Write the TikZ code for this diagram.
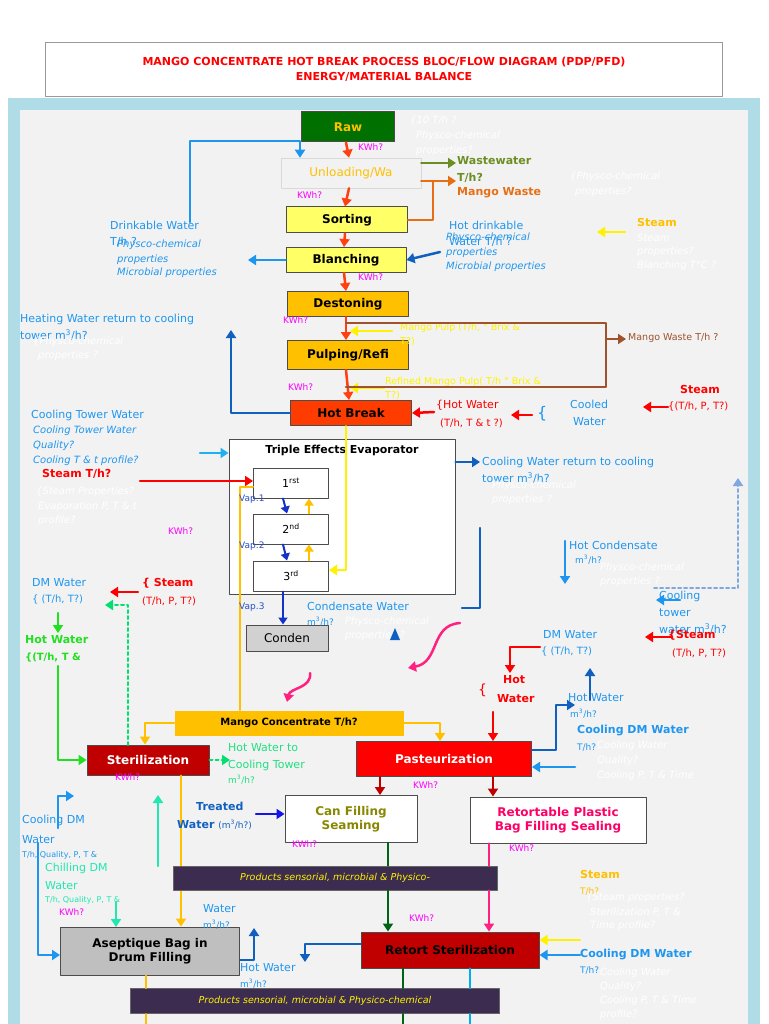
\documentclass[tikz,border=0pt]{standalone}
\usepackage{fontspec}
\setmainfont{DejaVu Sans}
\setsansfont{DejaVu Sans}
\usetikzlibrary{arrows.meta, calc, positioning}
\definecolor{redarr}{HTML}{FF4010}
\definecolor{drblue}{HTML}{1E96F0}
\definecolor{dkblue}{HTML}{1060C0}
\definecolor{orng}{HTML}{FFC000}
\definecolor{olive}{HTML}{6B8E23}
\definecolor{brwn}{HTML}{A0522D}
\definecolor{mag}{HTML}{FF00FF}
\definecolor{grn}{HTML}{20E020}
\definecolor{turq}{HTML}{20E8B0}
\definecolor{pink}{HTML}{FF2080}
\definecolor{prod}{HTML}{3C2C50}
\definecolor{dred}{HTML}{C00000}
\definecolor{vapblue}{RGB}{20,50,200}
\definecolor{vaptext}{RGB}{40,80,200}
\definecolor{orng2}{RGB}{230,110,20}
\definecolor{dkgrn}{RGB}{0,100,20}
\definecolor{hwgrn}{RGB}{32,224,128}
\definecolor{dashgrn}{RGB}{0,224,112}
\definecolor{dashblue}{RGB}{128,168,224}
\definecolor{tblue}{RGB}{20,20,230}
\definecolor{ctblue}{RGB}{30,176,240}
\definecolor{canol}{RGB}{136,136,0}
\definecolor{rbagc}{RGB}{255,0,102}
\definecolor{rawg}{RGB}{0,112,0}
\definecolor{yelb}{RGB}{255,255,102}
\definecolor{hbc}{RGB}{255,60,0}
\definecolor{bgblue}{RGB}{176,220,232}

\begin{document}
\begin{tikzpicture}[x=1pt, y=-1pt, line cap=round, line join=round,
    box/.style={draw=black!70, line width=1pt, font=\fontsize{12}{14}\selectfont\bfseries, inner sep=1pt, align=center},
    lab/.style={anchor=west, inner sep=0pt, font=\fontsize{11}{13}\selectfont, align=left},
    faint/.style={lab, text=white, font=\fontsize{10}{12}\selectfont\itshape},
    kwh/.style={lab, text=mag, font=\fontsize{9}{11}\selectfont},
    arr/.style={line width=2.5pt, -{Triangle[length=8pt,width=10pt]}},
    ln/.style={line width=2.5pt}]
    \useasboundingbox (0,0) rectangle (768,1024);
    % frame
    \fill[white] (0,0) rectangle (768,1024);
    \node[draw=black!40, fill=white, minimum width=677, minimum height=54, inner sep=0pt] (title) at (384,69) {};
    \node[text=red, font=\fontsize{11}{15}\selectfont\bfseries, align=center] at (title) {MANGO CONCENTRATE HOT BREAK PROCESS BLOC/FLOW DIAGRAM (PDP/PFD)\\ENERGY/MATERIAL BALANCE};
    \fill[bgblue] (8,98) rectangle (760,1024);
    \fill[black!5] (20,110) rectangle (748,1024);

    % process steps
    \node[box, fill=rawg, text=orng, minimum width=93, minimum height=30] (raw) at (348,127) {Raw};
    \node[box, draw=black!15, line width=0.5pt, fill=black!5, text=orng, font=\fontsize{12}{14}\selectfont, minimum width=140, minimum height=30] (unl) at (351,173) {Unloading/Wa};
    \node[box, fill=yelb, minimum width=121, minimum height=26] (sort) at (347,220) {Sorting};
    \node[box, fill=yelb, minimum width=120, minimum height=25] (blan) at (346,260) {Blanching};
    \node[box, fill=orng, minimum width=121, minimum height=25] (dest) at (348,304) {Destoning};
    \node[box, fill=orng, minimum width=121, minimum height=29] (pulp) at (348,355) {Pulping/Refi};
    \node[box, fill=hbc, minimum width=121, minimum height=25] (hbrk) at (351,413) {Hot Break};
    \node[box, fill=white, minimum width=226, minimum height=155] (evap) at (342,517) {};
    \node[anchor=north, font=\fontsize{11}{13}\selectfont\bfseries, inner sep=0pt] (evapt) at (342,445) {Triple Effects Evaporator};
    \node[box, fill=white, font=\fontsize{11}{13}\selectfont, minimum width=75, minimum height=30] (e1) at (291,483) {1\textsuperscript{rst}};
    \node[box, fill=white, font=\fontsize{11}{13}\selectfont, minimum width=75, minimum height=30] (e2) at (291,529) {2\textsuperscript{nd}};
    \node[box, fill=white, font=\fontsize{11}{13}\selectfont, minimum width=75, minimum height=30] (e3) at (291,576) {3\textsuperscript{rd}};
    \node[box, fill=black!18, minimum width=82, minimum height=26, font=\fontsize{12}{14}\selectfont] (cond) at (287,638) {Conden};
    \node[box, draw=none, fill=orng, minimum width=229, minimum height=25, font=\fontsize{10}{12}\selectfont\bfseries] (conc) at (289,723) {Mango Concentrate T/h?};
    \node[box, fill=dred, text=white, minimum width=122, minimum height=30] (ster) at (148,760) {Sterilization};
    \node[box, fill=red, text=white, minimum width=175, minimum height=35] (past) at (444,759) {Pasteurization};
    \node[box, fill=white, text=canol, minimum width=132, minimum height=47] (can) at (351,819) {Can Filling\\Seaming};
    \node[box, fill=white, text=rbagc, minimum width=176, minimum height=46] (rbag) at (558,820) {Retortable Plastic\\Bag Filling Sealing};
    \node[box, fill=black!25, minimum width=179, minimum height=48] (asep) at (150,951) {Aseptique Bag in\\Drum Filling};
    \node[box, fill=dred, minimum width=178, minimum height=36] (rster) at (450,950) {Retort Sterilization};

    % main line
    \foreach \source/\target in {raw/unl, unl/sort, sort/blan, blan/dest, dest/pulp, pulp/hbrk} {
            \draw[arr, redarr] ([xshift=-2]\source.south) -- ([xshift=-2]\target.north);
        }
    % evaporator inner flows
    \draw[line width=2pt, yellow, -{Triangle[length=8pt,width=10pt]}] (346,426) -- (346,570) -- (e3.east |- 0,570);
    \draw[line width=2pt, orng] (conc.north -| 240,0) -- (240,487) -- (e1.west |- 0,487);
    \foreach \source/\target in {e3/e2, e2/e1} {
            \draw[line width=2pt, orng, -{Triangle[length=7pt,width=9pt]}] ([xshift=18]\source.north) -- ([xshift=18]\target.south);
        }
    \foreach \source/\target in {e1/e2, e2/e3, e3/cond} {
            \draw[line width=2pt, vapblue, -{Triangle[length=7pt,width=9pt]}] ([xshift=-8]\source.south) -- ([xshift=-4]\target.north);
        }
    \node[lab, text=vaptext, font=\fontsize{9}{11}\selectfont] at (239,499) {Vap.1};
    \node[lab, text=vaptext, font=\fontsize{9}{11}\selectfont] at (239,546) {Vap.2};
    \node[lab, text=vaptext, font=\fontsize{9}{11}\selectfont] at (239,607) {Vap.3};

    % top side streams
    \node[kwh] at (358,147) {KWh?};
    \node[kwh] at (297,195) {KWh?};
    \node[kwh] at (358,277) {KWh?};
    \node[kwh] at (283,320) {KWh?};
    \node[kwh] at (288,387) {KWh?};
    \node[faint] at (410,121) {\{10 T/h ?};
    \node[faint] at (416,136) {Physco-chemical};
    \node[faint] at (416,151) {properties?};
    \coordinate (dw) at (190,222);
    \draw[arr, drblue] (dw) -- (190,141) -- (300,141) -- ([xshift=-51]unl.north);
    \node[lab, text=drblue] (dwl) at (110,225) {Drinkable Water};
    \node[lab, text=drblue] at (110,242) {T/h ?};
    \node[lab, text=drblue, font=\fontsize{10}{12}\selectfont\itshape] at (117,245) {Physco-chemical};
    \node[lab, text=drblue, font=\fontsize{10}{12}\selectfont\itshape] at (117,260) {properties};
    \node[lab, text=drblue, font=\fontsize{10}{12}\selectfont\itshape] at (117,273) {Microbial properties};
    \coordinate (blo) at (248,260);
    \draw[arr, drblue] (blan.west) -- (blo);
    \coordinate (ww) at (456,163);
    \coordinate (mw) at (456,181);
    \draw[arr, olive] ([yshift=10]unl.east) -- (ww);
    \draw[arr, orng2] ([yshift=-8]unl.east) -- (mw);
    \draw[ln, orng2] (sort.east) -- (433,220) -- (433,181);
    \node[lab, text=olive, font=\fontsize{11}{13}\selectfont\bfseries] at (457,161) {Wastewater};
    \node[lab, text=olive, font=\fontsize{11}{13}\selectfont\bfseries] at (457,178) {T/h?};
    \node[lab, text=orng2, font=\fontsize{11}{13}\selectfont\bfseries] at (457,193) {Mango Waste};
    \node[faint] at (570,177) {\{Physco-chemical};
    \node[faint] at (575,192) {properties?};
    \coordinate (hdw) at (440,252);
    \draw[arr, dkblue] (hdw) -- (blan.east);
    \node[lab, text=drblue] at (449,225) {Hot drinkable};
    \node[lab, text=drblue] at (449,242) {Water T/h ?};
    \node[lab, text=drblue, font=\fontsize{10}{12}\selectfont\itshape] at (446,238) {Physco-chemical};
    \node[lab, text=drblue, font=\fontsize{10}{12}\selectfont\itshape] at (446,253) {properties};
    \node[lab, text=drblue, font=\fontsize{10}{12}\selectfont\itshape] at (446,267) {Microbial properties};
    \coordinate (st1) at (625,232);
    \coordinate (st1e) at (597,232);
    \draw[arr, yellow] (st1) -- (st1e);
    \node[lab, text=orng, font=\fontsize{11}{13}\selectfont\bfseries] at (637,222) {Steam};
    \node[faint] at (637,238) {Steam};
    \node[faint] at (637,252) {properties?};
    \node[faint] at (637,266) {Blanching T°C ?};

    % pulping
    \coordinate (mp) at (392,331);
    \draw[arr, yellow] (mp) -- (350,331);
    \node[lab, text=yellow, font=\fontsize{9.5}{11}\selectfont] at (400,328) {Mango Pulp (T/h, ° Brix \&};
    \node[lab, text=yellow, font=\fontsize{9.5}{11}\selectfont] at (400,342) {T?)};
    \coordinate (rmp) at (384,388);
    \draw[arr, yellow] (rmp) -- (350,388);
    \node[lab, text=yellow, font=\fontsize{9.5}{11}\selectfont] at (385,382) {Refined Mango Pulp( T/h ° Brix \&};
    \node[lab, text=yellow, font=\fontsize{9.5}{11}\selectfont] at (385,396) {T?)};
    \coordinate (mwt) at (626,339);
    \draw[ln, brwn] (346,323) -- (606,323) -- (606,387) -- (346,387);
    \draw[arr, brwn] (606,339) -- (mwt);
    \node[lab, text=brwn, font=\fontsize{9.5}{11}\selectfont] at (628,338) {Mango Waste T/h ?};
    \coordinate (hwr) at (231,330);
    \draw[arr, dkblue] (hbrk.west) -- (231,413) -- (hwr);
    \node[lab, text=drblue] at (20,319) {Heating Water return to cooling};
    \node[lab, text=drblue] at (20,335) {tower m\textsuperscript{3}/h?};
    \node[faint] at (33,342) {\{Physco-chemical};
    \node[faint] at (38,356) {properties ?};

    % hot break right
    \coordinate (hw1) at (434,412);
    \draw[arr, red] (hw1) -- (hbrk.east);
    \node[lab, text=red] at (436,405) {\{Hot Water};
    \node[lab, text=red, font=\fontsize{10}{12}\selectfont] at (440,423) {(T/h, T \& t ?)};
    \coordinate (cw1) at (532,415);
    \draw[arr, red] (cw1) -- (511,415);
    \node[lab, text=drblue, font=\fontsize{16}{16}\selectfont] at (537,414) {\{};
    \node[lab, text=drblue] at (570,404) {Cooled};
    \node[lab, text=drblue] at (573,422) {Water};
    \coordinate (st2) at (668,407);
    \draw[arr, red] (st2) -- (643,407);
    \node[lab, text=red, font=\fontsize{11}{13}\selectfont\bfseries] at (680,389) {Steam};
    \node[lab, text=red, font=\fontsize{10}{12}\selectfont] at (668,407) {\{(T/h, P, T?)};

    % evaporator left
    \node[lab, text=drblue] at (31,415) {Cooling Tower Water};
    \node[lab, text=drblue, font=\fontsize{10}{12}\selectfont\itshape] at (33,431) {Cooling Tower Water};
    \node[lab, text=drblue, font=\fontsize{10}{12}\selectfont\itshape] at (33,446) {Quality?};
    \node[lab, text=drblue, font=\fontsize{10}{12}\selectfont\itshape] at (33,461) {Cooling T \& t profile?};
    \coordinate (ctw) at (200,453);
    \draw[arr, ctblue] (ctw) -- (evap.west |- ctw);
    \node[lab, text=red, font=\fontsize{11}{13}\selectfont\bfseries] at (42,474) {Steam T/h?};
    \coordinate (stt) at (140,481);
    \draw[arr, red] (stt) -- (e1.west |- stt);
    \node[faint] at (36,492) {\{Steam Properties?};
    \node[faint] at (38,507) {Evaporation P, T \& t};
    \node[faint] at (38,521) {profile?};
    \node[kwh] at (168,531) {KWh?};
    % evaporator right
    \coordinate (cwr) at (480,462);
    \draw[arr, dkblue] (evap.east |- cwr) -- (cwr);
    \node[lab, text=drblue] at (482,462) {Cooling Water return to cooling};
    \node[lab, text=drblue] at (482,478) {tower m\textsuperscript{3}/h?};
    \node[faint] at (492,486) {Physco-chemical};
    \node[faint] at (492,500) {properties ?};
    \coordinate (cdw) at (462,608);
    \draw[ln, dkblue] (480,528) -- (480,608) -- (cdw);
    \node[lab, text=drblue] at (307,606) {Condensate Water};
    \node[lab, text=drblue, font=\fontsize{9}{11}\selectfont] at (307,622) {m\textsuperscript{3}/h?};
    \node[faint] at (345,622) {Physco-chemical};
    \node[faint] at (345,636) {properties ?};
    \fill[dkblue] (390,640) -- (395,628) -- (400,640) -- cycle;
    \coordinate (hc) at (565,541);
    \draw[arr, drblue] (hc) -- (565,584);
    \node[lab, text=drblue] at (569,545) {Hot Condensate};
    \node[lab, text=drblue, font=\fontsize{9}{11}\selectfont] at (575,560) {m\textsuperscript{3}/h?};
    \node[faint] at (600,568) {Physco-chemical};
    \node[faint] at (600,582) {properties ?};
    \coordinate (dsh) at (654,588);
    \draw[line width=2pt, dashed, dashblue, -{Triangle[length=8pt,width=10pt]}] (dsh) -- (738,588) -- (738,478);
    \coordinate (ctw2) at (680,600);
    \draw[arr, drblue] (ctw2) -- (656,600);
    \node[lab, text=drblue] at (659,596) {Cooling};
    \node[lab, text=drblue] at (659,613) {tower};
    \node[lab, text=drblue] at (659,629) {water m\textsuperscript{3}/h?};
    % pink curves
    \coordinate (pk1) at (460,623);
    \coordinate (pk2) at (310,673);
    \draw[arr, pink] (pk1) .. controls (430,625) and (440,662) .. (408,668);
    \draw[arr, pink] (pk2) .. controls (312,688) and (290,688) .. (287,702);

    % left middle
    \node[lab, text=drblue] at (32,583) {DM Water};
    \node[lab, text=drblue, font=\fontsize{10}{12}\selectfont] at (32,600) {\{ (T/h, T?)};
    \coordinate (st3) at (138,592);
    \draw[arr, red] (st3) -- (110,592);
    \node[lab, text=red, font=\fontsize{11}{13}\selectfont\bfseries] at (142,583) {\{ Steam};
    \node[lab, text=red, font=\fontsize{10}{12}\selectfont] at (142,601) {(T/h, P, T?)};
    \coordinate (gd) at (128,605);
    \draw[line width=2pt, dashed, dashgrn, -{Triangle[length=8pt,width=10pt]}] (128,745) -- (gd) -- (105,605);
    \coordinate (hw2) at (58,613);
    \draw[arr, grn] (hw2) -- (58,633);
    \node[lab, text=grn, font=\fontsize{11}{13}\selectfont\bfseries] at (25,640) {Hot Water};
    \node[lab, text=grn, font=\fontsize{10}{12}\selectfont\bfseries] at (25,658) {\{(T/h, T \&};
    \coordinate (hw3) at (58,666);
    \draw[arr, grn] (hw3) -- (58,760) -- (ster.west);
    \draw[line width=2pt, dashed, dashgrn, -{Triangle[length=8pt,width=10pt]}] (ster.east) -- (230,760);
    \node[lab, text=hwgrn] at (228,748) {Hot Water to};
    \node[lab, text=hwgrn] at (228,765) {Cooling Tower};
    \node[lab, text=hwgrn, font=\fontsize{9}{11}\selectfont] at (228,780) {m\textsuperscript{3}/h?};
    \node[kwh] at (115,777) {KWh?};

    % concentrate distribution
    \draw[arr, orng, line width=2pt] (conc.west) -- (145,723) -- ([xshift=-3]ster.north);
    \draw[arr, orng, line width=2pt] (conc.east) -- (440,723) -- ([xshift=-4]past.north);
    \draw[arr, orng, line width=2pt] ([xshift=33]ster.south) -- ([xshift=31]asep.north);

    % right middle
    \node[lab, text=drblue] at (543,635) {DM Water};
    \node[lab, text=drblue, font=\fontsize{10}{12}\selectfont] at (541,652) {\{ (T/h, T?)};
    \coordinate (st4) at (672,637);
    \draw[arr, red] (st4) -- (645,637);
    \node[lab, text=red, font=\fontsize{11}{13}\selectfont\bfseries] at (668,635) {\{Steam};
    \node[lab, text=red, font=\fontsize{10}{12}\selectfont] at (672,653) {(T/h, P, T?)};
    \coordinate (dmr) at (540,647);
    \draw[arr, red] (dmr) -- (510,647) -- (510,673);
    \node[lab, text=red, font=\fontsize{14}{14}\selectfont] at (478,690) {\{};
    \node[lab, text=red, font=\fontsize{11}{13}\selectfont\bfseries] at (503,680) {Hot};
    \node[lab, text=red, font=\fontsize{11}{13}\selectfont\bfseries] at (497,699) {Water};
    \coordinate (hw4) at (493,712);
    \draw[arr, red] (hw4) -- ([xshift=49]past.north);
    \coordinate (hw5) at (575,705);
    \draw[ln, dkblue, -{Triangle[length=8pt,width=10pt]}] ([yshift=9]past.east) -- (556,750) -- (556,705) -- (hw5);
    \draw[arr, dkblue] (590,700) -- (590,668);
    \node[lab, text=drblue] at (568,698) {Hot Water};
    \node[lab, text=drblue, font=\fontsize{9}{11}\selectfont] at (570,714) {m\textsuperscript{3}/h?};
    \node[lab, text=drblue, font=\fontsize{11}{13}\selectfont\bfseries] at (577,730) {Cooling DM Water};
    \node[lab, text=drblue, font=\fontsize{9}{11}\selectfont] at (577,747) {T/h?};
    \node[faint] at (597,746) {Cooling Water};
    \node[faint] at (597,761) {Quality?};
    \node[faint] at (597,776) {Cooling P, T \& Time};
    \coordinate (cdm1) at (575,767);
    \draw[arr, drblue] (cdm1) -- ([yshift=-8]past.east);
    \node[kwh] at (413,785) {KWh?};
    \draw[arr, dred] ([xshift=-64]past.south) -- ([xshift=29]can.north);
    \draw[arr, dred] ([xshift=49]past.south) -- ([xshift=-65]rbag.north);

    % filling
    \node[lab, text=dkblue, font=\fontsize{11}{13}\selectfont\bfseries] at (196,806) {Treated};
    \node[lab, text=dkblue, font=\fontsize{11}{13}\selectfont\bfseries] at (177,825) {Water \mdseries\fontsize{9}{11}\selectfont(m\textsuperscript{3}/h?)};
    \coordinate (tw) at (256,814);
    \draw[arr, tblue] (tw) -- (can.west |- tw);
    \node[kwh] at (292,844) {KWh?};
    \node[kwh] at (509,848) {KWh?};
    \node[lab, text=drblue] at (22,820) {Cooling DM};
    \node[lab, text=drblue] at (22,840) {Water};
    \node[lab, text=drblue, font=\fontsize{8}{10}\selectfont] at (22,855) {T/h, Quality, P, T \&};
    \coordinate (cdm2) at (58,828);
    \draw[arr, drblue] (cdm2) -- (58,796) -- (74,796);
    \coordinate (cdm3) at (38,843);
    \draw[arr, drblue] (cdm3) -- (38,955) -- (asep.west |- 0,955);
    \node[lab, text=turq] at (45,868) {Chilling DM};
    \node[lab, text=turq] at (45,886) {Water};
    \node[lab, text=turq, font=\fontsize{8}{10}\selectfont] at (45,900) {T/h, Quality, P, T \&};
    \coordinate (chw) at (158,866);
    \draw[arr, turq] (chw) -- (158,795);
    \coordinate (chw2) at (116,902);
    \draw[arr, turq] (chw2) -- (116,927);
    \node[kwh] at (59,912) {KWh?};

    % products bars
    \node[box, fill=prod, draw=black!60, text=yellow, font=\fontsize{9.5}{11}\selectfont\itshape, minimum width=324, minimum height=24] (prod1) at (335,878) {Products sensorial, microbial \& Physico-};
    \node[box, fill=prod, draw=black!60, text=yellow, font=\fontsize{9.5}{11}\selectfont\itshape, minimum width=369, minimum height=25] (prod2) at (315,1001) {Products sensorial, microbial \& Physico-chemical};
    \draw[ln, dkgrn] ([xshift=37]can.south) -- (prod1.north -| 388,0);
    \draw[arr, dkgrn] (prod1.south -| 388,0) -- (rster.north -| 388,0);
    \draw[ln, pink] ([xshift=-69]rbag.south) -- (prod1.north -| 489,0);
    \draw[arr, pink] (prod1.south -| 489,0) -- (rster.north -| 489,0);
    \node[kwh] at (409,918) {KWh?};

    % bottom
    \node[lab, text=drblue] at (203,909) {Water};
    \node[lab, text=drblue, font=\fontsize{9}{11}\selectfont] at (203,925) {m\textsuperscript{3}/h?};
    \draw[arr, dkblue] ([yshift=-9]asep.east) -- (254,960) -- (254,928);
    \coordinate (hw6) at (305,962);
    \draw[arr, dkblue] ([yshift=6]rster.west) -- (305,944) -- (hw6);
    \node[lab, text=drblue] at (240,968) {Hot Water};
    \node[lab, text=drblue, font=\fontsize{9}{11}\selectfont] at (240,984) {m\textsuperscript{3}/h?};
    \node[lab, text=orng, font=\fontsize{11}{13}\selectfont\bfseries] at (580,874) {Steam};
    \node[lab, text=orng, font=\fontsize{9}{11}\selectfont] at (580,891) {T/h?};
    \node[faint] at (586,898) {\{Steam properties?};
    \node[faint] at (590,912) {Sterilization P, T \&};
    \node[faint] at (590,926) {Time profile?};
    \coordinate (st5) at (580,940);
    \draw[arr, yellow] (st5) -- ([yshift=10]rster.east);
    \coordinate (cdm4) at (580,955);
    \draw[arr, drblue] (cdm4) -- ([yshift=-5]rster.east);
    \node[lab, text=drblue, font=\fontsize{11}{13}\selectfont\bfseries] at (580,954) {Cooling DM Water};
    \node[lab, text=drblue, font=\fontsize{9}{11}\selectfont] at (580,970) {T/h?};
    \node[faint] at (600,973) {Cooling Water};
    \node[faint] at (600,987) {Quality?};
    \node[faint] at (600,1001) {Cooling P, T \& Time};
    \node[faint] at (600,1015) {profile?};
    \draw[ln, orng, line width=2pt] ([xshift=-4]asep.south) -- (prod2.north -| 146,0);
    \draw[ln, orng, line width=2pt] (prod2.south -| 146,0) -- (146,1026);
    \draw[ln, dkgrn] (rster.south -| 403,0) -- (prod2.north -| 403,0);
    \draw[ln, dkgrn] (prod2.south -| 403,0) -- (403,1026);
    \draw[ln, cyan] (rster.south -| 470,0) -- (prod2.north -| 470,0);
    \draw[ln, cyan] (prod2.south -| 470,0) -- (470,1026);
\end{tikzpicture}
\end{document}
